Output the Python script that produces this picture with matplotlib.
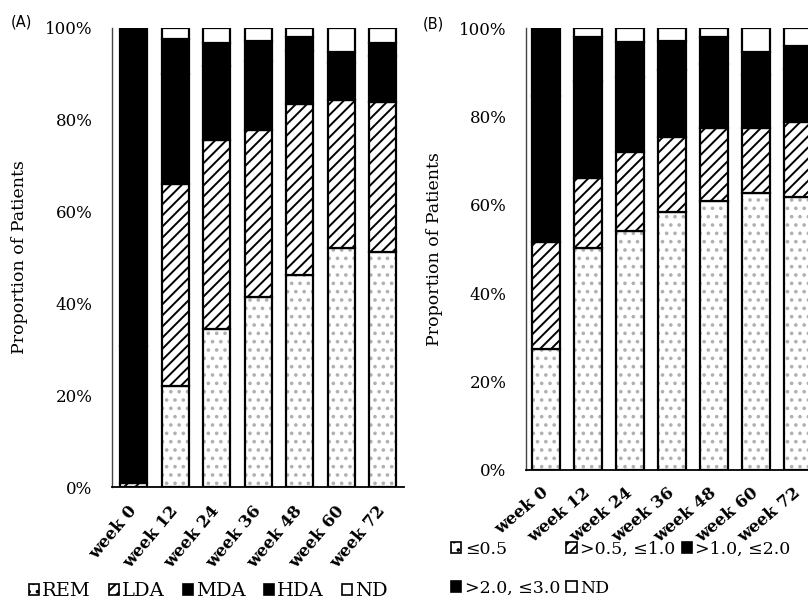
import numpy as np
import matplotlib
matplotlib.use('Agg')
import matplotlib.pyplot as plt
from matplotlib.patches import Patch

plt.rcParams['font.family'] = ['DejaVu Serif']
plt.rcParams['hatch.linewidth'] = 1.4

weeks = ['week 0', 'week 12', 'week 24', 'week 36', 'week 48', 'week 60', 'week 72']

# panel A, percent of patients (MDA and HDA are both printed black, split is a guess)
a_rem = [0.0, 22.0, 34.4, 41.5, 46.2, 52.1, 51.1]
a_lda = [0.8, 44.0, 41.3, 36.3, 37.2, 32.2, 32.8]
a_mda = [30.0, 24.0, 16.0, 15.0, 11.5, 8.0, 10.0]
a_hda = [69.2, 7.7, 5.0, 4.4, 3.2, 2.4, 2.8]
a_nd = [0.0, 2.3, 3.3, 2.8, 1.9, 5.3, 3.3]
a_labels = ['REM', 'LDA', 'MDA', 'HDA', 'ND']

# panel B
b_1 = [27.5, 50.2, 54.0, 58.5, 61.0, 62.6, 61.7]
b_2 = [24.2, 15.8, 17.9, 17.0, 16.4, 14.8, 17.0]
b_3 = [33.0, 22.0, 17.0, 15.0, 14.5, 12.0, 12.0]
b_4 = [15.3, 10.1, 8.1, 6.7, 6.2, 5.3, 5.3]
b_nd = [0.0, 1.9, 3.0, 2.8, 1.9, 5.3, 4.0]
b_labels = ['≤0.5', '>0.5, ≤1.0', '>1.0, ≤2.0', '>2.0, ≤3.0', 'ND']

yticks = [0, 20, 40, 60, 80, 100]


def draw_panel(ax, series, xlim, rot):
    x = np.arange(len(weeks))
    w = 0.65
    bottom = np.zeros(len(weeks))
    styles = [('white', '..'), ('white', '///'), ('black', None),
              ('black', None), ('white', None)]
    for vals, (fc, hatch) in zip(series, styles):
        vals = np.array(vals)
        if hatch == '..':
            # light stipple: grey dots under a black outline
            ax.bar(x, vals, w, bottom=bottom, color='white', hatch=hatch,
                   edgecolor='#b0b0b0', linewidth=0)
            ax.bar(x, vals, w, bottom=bottom, fill=False,
                   edgecolor='black', linewidth=1.6)
        else:
            ax.bar(x, vals, w, bottom=bottom, color=fc, hatch=hatch,
                   edgecolor='black', linewidth=1.6)
        bottom += vals
    ax.set_xlim(*xlim)
    ax.set_ylim(0, 100)
    ax.set_yticks(yticks)
    ax.set_yticklabels(['%d%%' % t for t in yticks], fontsize=12)
    ax.set_xticks(x)
    ax.set_xticklabels(weeks, rotation=rot, ha='right', va='center',
                       rotation_mode='anchor', fontsize=12, fontweight='bold')
    ax.tick_params(axis='y', length=0, pad=14)
    ax.tick_params(axis='x', length=0, pad=15)
    for s in ['top', 'right']:
        ax.spines[s].set_visible(False)
    ax.spines['left'].set_color('#444444')
    ax.spines['left'].set_linewidth(1.0)
    ax.spines['bottom'].set_linewidth(1.3)
    ax.set_ylabel('Proportion of Patients', fontsize=12.5)


def handles(labels):
    kinds = [dict(facecolor='white', hatch='..'), dict(facecolor='white', hatch='///'),
             dict(facecolor='black'), dict(facecolor='black'), dict(facecolor='white')]
    return [Patch(edgecolor='black', linewidth=1.2, label=l, **k)
            for l, k in zip(labels, kinds)]


fig = plt.figure(figsize=(8.08, 6.11), dpi=100)

axA = fig.add_axes([112/808, 124/611, 292/808, 459/611])
draw_panel(axA, [a_rem, a_lda, a_mda, a_hda, a_nd], (-0.53, 6.52), 50)
axA.yaxis.set_label_coords(-0.288, 0.5)

axB = fig.add_axes([526/808, 141/611, 294/808, 441.7/611])
draw_panel(axB, [b_1, b_2, b_3, b_4, b_nd], (-0.476, 6.524), 40)
axB.yaxis.set_label_coords(-0.282, 0.5)

fig.text(11/808, 1 - 22/611, '(A)', fontsize=10.5, family='DejaVu Sans', va='center')
fig.text(423/808, 1 - 24/611, '(B)', fontsize=10.5, family='DejaVu Sans', va='center')

hA = handles(a_labels)
fig.legend(handles=hA, loc='center left', bbox_to_anchor=(29/808, 1 - 591/611),
           ncol=5, frameon=False, fontsize=14, handlelength=0.5, handleheight=0.5,
           handletextpad=0.16, columnspacing=0.95, borderpad=0, borderaxespad=0)

hB = handles(b_labels)
order = [0, 3, 1, 4, 2]
fig.legend(handles=[hB[i] for i in order], loc='upper left',
           bbox_to_anchor=(451/808, 1 - 541/611), ncol=3, frameon=False,
           fontsize=12.5, handlelength=0.6, handleheight=0.6, handletextpad=0.2,
           columnspacing=0.35, labelspacing=1.25, borderpad=0, borderaxespad=0)

fig.savefig('out.png', dpi=100)
